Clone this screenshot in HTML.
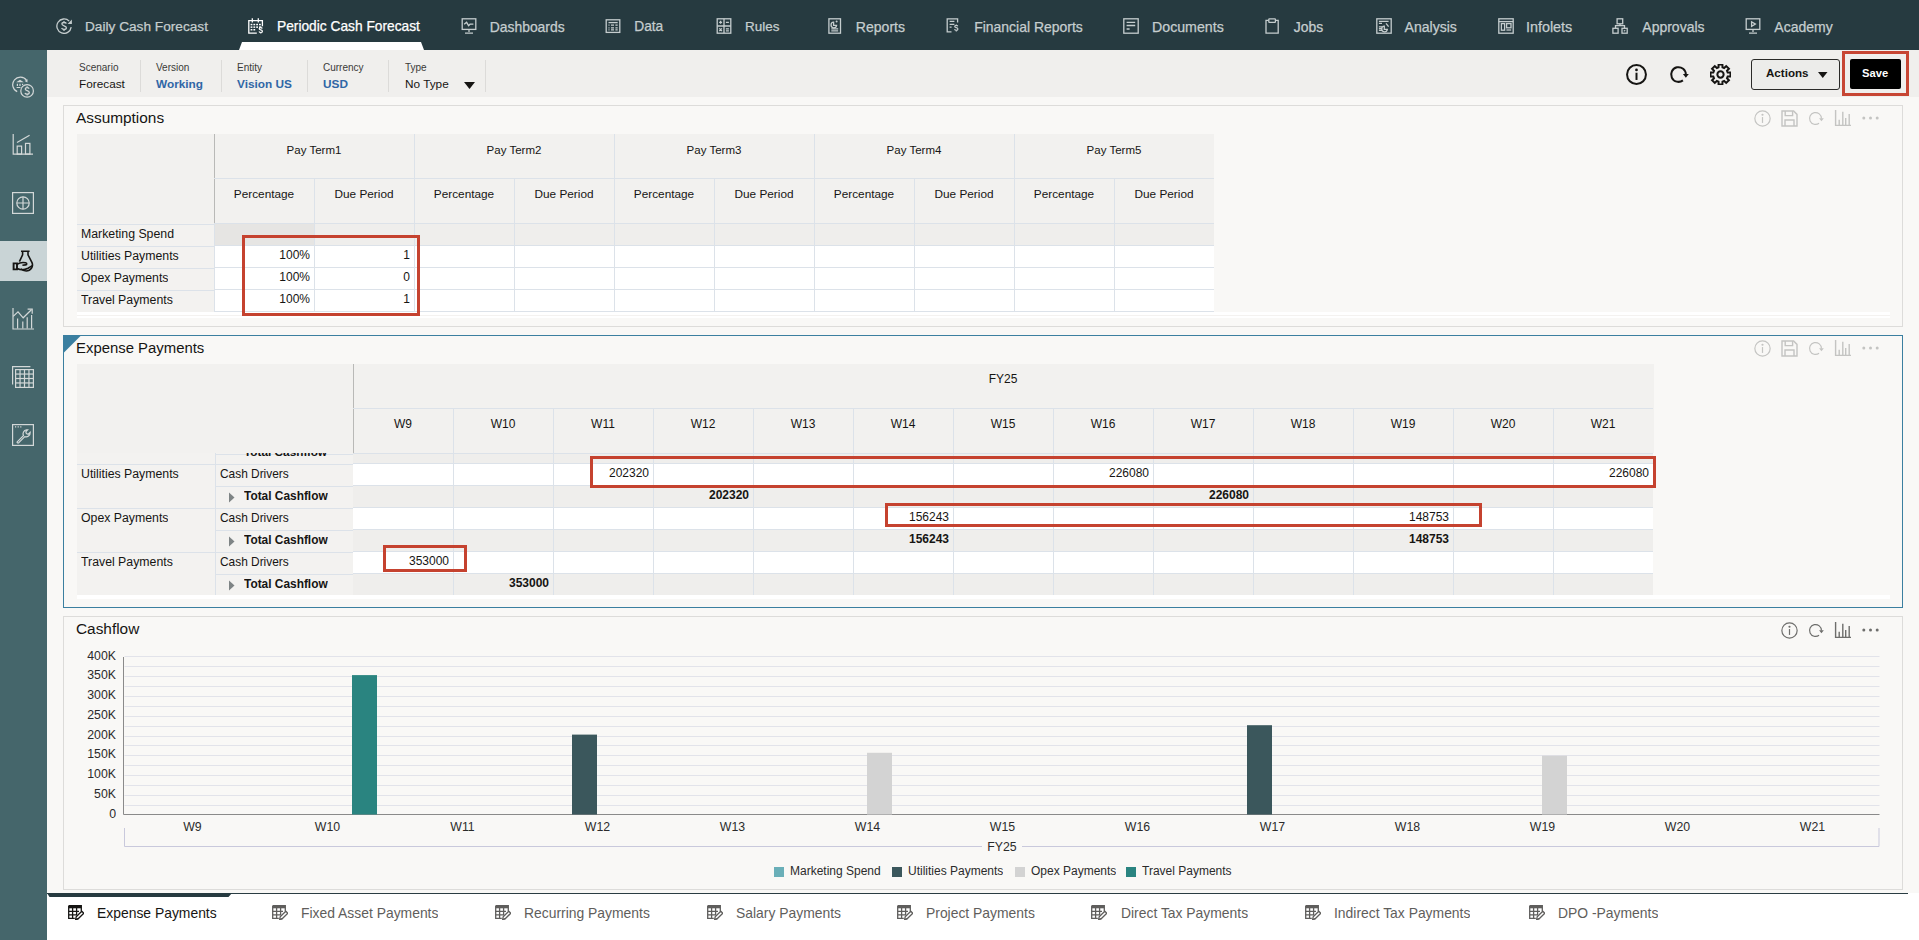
<!DOCTYPE html><html><head><meta charset="utf-8"><style>
*{margin:0;padding:0;box-sizing:border-box}
html,body{width:1919px;height:940px;overflow:hidden;background:#f9f8f6;font-family:"Liberation Sans",sans-serif;color:#161513}
.a{position:absolute}
.nav{left:0;top:0;width:1919px;height:50px;background:#263a40}
.ni{position:absolute;top:18px;font-size:13.8px;color:#c5cdce;white-space:nowrap;line-height:18px;-webkit-text-stroke:0.25px currentColor}
.side{left:0;top:50px;width:47px;height:890px;background:#45666b}
.pov{left:47px;top:50px;width:1872px;height:47px;background:#f0efed}
.lbl{position:absolute;font-size:10px;color:#3a3a38;white-space:nowrap}
.val{position:absolute;font-size:11.8px;white-space:nowrap}
.blue{color:#2f66a6;font-weight:bold}
.sep{position:absolute;top:60px;width:1px;height:32px;background:#dcdbd9}
.panel{position:absolute;border:1px solid #dddcda;background:#f9f8f6}
.ptitle{position:absolute;font-size:15.4px;white-space:nowrap;color:#161513}
.c{position:absolute;font-size:12px;white-space:nowrap;overflow:hidden}
</style></head><body>
<div class="a nav"></div>
<div class="ni" style="left:85px;color:#c5cdce;font-size:13.66px">Daily Cash Forecast</div>
<svg class="a" style="left:56px;top:18px" width="16" height="16" viewBox="0 0 16 16"><path d="M15.2 9.2A7.2 7.2 0 1 1 13.2 3.1" fill="none" stroke="#c5cdce" stroke-width="1.3"/><path d="M11.6 5.9H15.9V1.6Z" fill="#c5cdce"/><path d="M10.4 5.6C10 4.7 9.1 4.5 8 4.5C6.8 4.5 5.9 5.1 5.9 6.1C5.9 8.3 10.4 7.3 10.4 9.8C10.4 10.9 9.4 11.5 8.1 11.5C6.9 11.5 6 11.1 5.6 10.1M8 3V4.5M8 11.5V13" fill="none" stroke="#c5cdce" stroke-width="1.3"/></svg>
<div class="ni" style="left:277px;color:#ffffff;font-size:13.76px">Periodic Cash Forecast</div>
<svg class="a" style="left:248px;top:18px" width="16" height="16" viewBox="0 0 16 16"><path d="M8.8 15.2H0.8V2.6H14.4V8.2" fill="none" stroke="#ffffff" stroke-width="1.3"/><path d="M4.3 0.3V4.5M10.3 0.3V4.5" fill="none" stroke="#ffffff" stroke-width="1.3"/><rect x="2.6" y="5.8" width="1.8" height="1.5" fill="#ffffff"/><rect x="2.6" y="8.4" width="1.8" height="1.5" fill="#ffffff"/><rect x="5.4" y="5.8" width="1.8" height="1.5" fill="#ffffff"/><rect x="5.4" y="8.4" width="1.8" height="1.5" fill="#ffffff"/><rect x="8.2" y="5.8" width="1.8" height="1.5" fill="#ffffff"/><rect x="8.2" y="8.4" width="1.8" height="1.5" fill="#ffffff"/><rect x="11" y="5.8" width="1.8" height="1.5" fill="#ffffff"/><rect x="11" y="8.4" width="1.8" height="1.5" fill="#ffffff"/><rect x="2.6" y="11" width="1.8" height="1.5" fill="#ffffff"/><rect x="5.4" y="11" width="1.8" height="1.5" fill="#ffffff"/><path d="M14.3 10.4C14 9.8 13.4 9.6 12.7 9.6C11.9 9.6 11.2 10 11.2 10.7C11.2 12.2 14.4 11.5 14.4 13.2C14.4 14 13.7 14.5 12.8 14.5C12 14.5 11.3 14.2 11 13.5M12.8 8.6V9.6M12.8 14.5V15.6" fill="none" stroke="#ffffff" stroke-width="1.2"/></svg>
<div class="ni" style="left:489.7px;color:#c5cdce;font-size:13.91px">Dashboards</div>
<svg class="a" style="left:461px;top:18px" width="16" height="16" viewBox="0 0 16 16"><rect x="1.2" y="0.8" width="13.6" height="10.6" fill="none" stroke="#c5cdce" stroke-width="1.3"/><path d="M8 11.4V14M4 15.1H12" fill="none" stroke="#c5cdce" stroke-width="1.3" stroke-width="1.6"/><path d="M3.2 6.3L5.6 4.3L7.6 7.6L9 6.2H12.4" fill="none" stroke="#c5cdce" stroke-width="1.3"/></svg>
<div class="ni" style="left:634.2px;color:#c5cdce;font-size:13.77px">Data</div>
<svg class="a" style="left:605px;top:18px" width="16" height="16" viewBox="0 0 16 16"><rect x="1.2" y="1.8" width="13.6" height="12.6" fill="none" stroke="#c5cdce" stroke-width="1.3"/><path d="M3.5 4.6H12.7" fill="none" stroke="#c5cdce" stroke-width="1.3"/><path d="M3.5 7.2H4.5M6 7.2H9M10.4 7.2H12.7M3.5 9.8H4.5M6 9.8H9M10.4 9.8H12.7M3.5 11.8H4.5M6 11.8H9M10.4 11.8H12.7" fill="none" stroke="#c5cdce" stroke-width="1.3" stroke-width="1.1"/></svg>
<div class="ni" style="left:745px;color:#c5cdce;font-size:13.45px">Rules</div>
<svg class="a" style="left:716px;top:18px" width="16" height="16" viewBox="0 0 16 16"><rect x="1.2" y="0.8" width="13.6" height="14.4" fill="none" stroke="#c5cdce" stroke-width="1.3"/><path d="M8 0.8V15.2M1.2 8H14.8" fill="none" stroke="#c5cdce" stroke-width="1.3"/><path d="M4.6 2.8V5.8M3.1 4.3H6.1M9.9 4.3H12.9M3.3 10.4L5.9 13M5.9 10.4L3.3 13M9.9 10.8H12.9M9.9 12.8H12.9" fill="none" stroke="#c5cdce" stroke-width="1.3" stroke-width="1.2"/></svg>
<div class="ni" style="left:855.8px;color:#c5cdce;font-size:14.05px">Reports</div>
<svg class="a" style="left:828px;top:18px" width="16" height="16" viewBox="0 0 16 16"><rect x="0.9" y="0.8" width="11.6" height="14.4" fill="none" stroke="#c5cdce" stroke-width="1.3"/><path d="M5.6 4.2A2.8 2.8 0 1 0 8.6 7.4H5.6Z" fill="none" stroke="#c5cdce" stroke-width="1.3" stroke-width="1.1"/><circle cx="8.6" cy="3.4" r="1" fill="#c5cdce"/><path d="M3.3 10.8H10.2M3.3 12.8H10.2" fill="none" stroke="#c5cdce" stroke-width="1.3" stroke-width="1.1"/></svg>
<div class="ni" style="left:974.2px;color:#c5cdce;font-size:13.96px">Financial Reports</div>
<svg class="a" style="left:946px;top:18px" width="16" height="16" viewBox="0 0 16 16"><path d="M5.5 13.8H1.2V0.8H11.6V4.6" fill="none" stroke="#c5cdce" stroke-width="1.3"/><path d="M3.6 3.4H8.4M3.6 6.4H8.4M3.6 9.2H5.6" fill="none" stroke="#c5cdce" stroke-width="1.3" stroke-width="1.1"/><path d="M11.8 8.2C11.5 7.6 10.9 7.4 10.2 7.4C9.4 7.4 8.7 7.8 8.7 8.5C8.7 10 11.9 9.3 11.9 11C11.9 11.8 11.2 12.3 10.3 12.3C9.5 12.3 8.8 12 8.5 11.3M10.3 6.4V7.4M10.3 12.3V13.6" fill="none" stroke="#c5cdce" stroke-width="1.2"/></svg>
<div class="ni" style="left:1152px;color:#c5cdce;font-size:14.2px">Documents</div>
<svg class="a" style="left:1123px;top:18px" width="16" height="16" viewBox="0 0 16 16"><rect x="0.8" y="0.8" width="14.4" height="14.4" fill="none" stroke="#c5cdce" stroke-width="1.3"/><path d="M3.6 4.3H12.2M3.6 7.5H12.2M3.6 11H6.6" fill="none" stroke="#c5cdce" stroke-width="1.3" stroke-width="1.2"/></svg>
<div class="ni" style="left:1293.8px;color:#c5cdce;font-size:13.92px">Jobs</div>
<svg class="a" style="left:1265px;top:18px" width="16" height="16" viewBox="0 0 16 16"><path d="M3.5 2.4H1V15.2H13.2V2.4H10.6" fill="none" stroke="#c5cdce" stroke-width="1.3"/><rect x="3.8" y="0.8" width="6.6" height="3.6" rx="0.6" fill="none" stroke="#c5cdce" stroke-width="1.3"/></svg>
<div class="ni" style="left:1404.5px;color:#c5cdce;font-size:14.07px">Analysis</div>
<svg class="a" style="left:1376px;top:18px" width="16" height="16" viewBox="0 0 16 16"><rect x="0.8" y="0.8" width="14.4" height="14.4" fill="none" stroke="#c5cdce" stroke-width="1.3"/><path d="M2.9 3.4H12.6M2.9 5.4H6M2.9 8.8H6M2.9 10.6H6M2.9 12.4H6" fill="none" stroke="#c5cdce" stroke-width="1.3" stroke-width="1.1"/><path d="M8.3 8.2A2.8 2.8 0 1 0 11.3 11.4H8.3Z" fill="none" stroke="#c5cdce" stroke-width="1.3" stroke-width="1.1"/><path d="M10 5.4L12.6 8.6" fill="none" stroke="#c5cdce" stroke-width="1.3" stroke-width="1.4"/></svg>
<div class="ni" style="left:1525.9px;color:#c5cdce;font-size:14.4px">Infolets</div>
<svg class="a" style="left:1498px;top:18px" width="16" height="16" viewBox="0 0 16 16"><rect x="0.8" y="0.8" width="14.4" height="14.4" fill="none" stroke="#c5cdce" stroke-width="1.3"/><path d="M0.8 3.6H15.2" fill="none" stroke="#c5cdce" stroke-width="1.3"/><rect x="3.4" y="5.6" width="3.2" height="6.6" fill="none" stroke="#c5cdce" stroke-width="1.3" stroke-width="1.1"/><rect x="8.6" y="5.6" width="4.4" height="4.2" fill="none" stroke="#c5cdce" stroke-width="1.3" stroke-width="1.1"/><path d="M8.4 12H13.2" fill="none" stroke="#c5cdce" stroke-width="1.3" stroke-width="1.1"/></svg>
<div class="ni" style="left:1642.3px;color:#c5cdce;font-size:14.01px">Approvals</div>
<svg class="a" style="left:1612px;top:18px" width="16" height="16" viewBox="0 0 16 16"><rect x="5.1" y="0.8" width="5.6" height="5" fill="none" stroke="#c5cdce" stroke-width="1.3"/><path d="M8 5.8V7.4M3.5 10.2V7.6H12.5V10.2" fill="none" stroke="#c5cdce" stroke-width="1.3"/><rect x="0.9" y="10.3" width="5.2" height="4.9" fill="none" stroke="#c5cdce" stroke-width="1.3"/><rect x="10" y="10.3" width="5.2" height="4.9" fill="none" stroke="#c5cdce" stroke-width="1.3"/><path d="M11.8 11.8L13.8 12.8L11.8 13.8Z" fill="#c5cdce"/></svg>
<div class="ni" style="left:1774.3px;color:#c5cdce;font-size:14.01px">Academy</div>
<svg class="a" style="left:1745px;top:18px" width="16" height="16" viewBox="0 0 16 16"><rect x="1.2" y="0.8" width="13.6" height="10.6" fill="none" stroke="#c5cdce" stroke-width="1.3"/><path d="M8 11.4V14M4 15.1H12" fill="none" stroke="#c5cdce" stroke-width="1.3" stroke-width="1.6"/><path d="M6.6 3.8V8.4L10.4 6.1Z" fill="none" stroke="#c5cdce" stroke-width="1.3" stroke-width="1.2"/></svg>
<svg class="a" style="left:239px;top:42px" width="186" height="8"><path d="M3 0H182L185 8H0Z" fill="#fff"/></svg>
<div class="a side"></div>
<div class="a" style="left:0;top:241px;width:47px;height:40px;background:#c9d4d6"></div>
<svg class="a" style="left:12px;top:76px" width="22" height="22" viewBox="0 0 22 22"><path d="M5.2 15.6A7.6 7.6 0 1 1 14.6 4.4" fill="none" stroke="#d3d8d8" stroke-width="1.2"/><path d="M12.6 4.9L15.6 3.2L15.4 6.6Z" fill="#d3d8d8"/><circle cx="15.1" cy="14.9" r="6.3" fill="none" stroke="#d3d8d8" stroke-width="1.2"/><path d="M17.2 12.6C16.8 11.9 16.1 11.6 15.2 11.6C14.1 11.6 13.2 12.2 13.2 13.1C13.2 15.1 17.3 14.2 17.3 16.5C17.3 17.6 16.3 18.2 15.1 18.2C14.1 18.2 13.2 17.8 12.9 17M15.1 10.3V11.6M15.1 18.2V19.6" fill="none" stroke="#d3d8d8" stroke-width="1.2"/><path d="M4.2 6.3L8 3.7L11.8 6.3Z" fill="#d3d8d8"/><path d="M5.4 7.8V10M8 7.8V10M10.6 7.8V9M4.6 11.5H8.4" fill="none" stroke="#d3d8d8" stroke-width="1.2" stroke-width="1.5"/></svg>
<svg class="a" style="left:12px;top:134px" width="22" height="22" viewBox="0 0 22 22"><path d="M1.2 0V20.2H21" fill="none" stroke="#d3d8d8" stroke-width="1.2"/><rect x="5.2" y="12.1" width="4.4" height="8" fill="none" stroke="#d3d8d8" stroke-width="1.2"/><rect x="13.5" y="9.4" width="4.4" height="10.7" fill="none" stroke="#d3d8d8" stroke-width="1.2"/><path d="M5 8.4L17.6 1.2" fill="none" stroke="#d3d8d8" stroke-width="1.2"/></svg>
<svg class="a" style="left:12px;top:192px" width="22" height="22" viewBox="0 0 22 22"><rect x="0.6" y="0.6" width="20.8" height="20.8" fill="none" stroke="#d3d8d8" stroke-width="1.2"/><circle cx="11" cy="11" r="6.2" fill="none" stroke="#d3d8d8" stroke-width="1.2"/><path d="M11 4.8V17.2M4.8 11H17.2" fill="none" stroke="#d3d8d8" stroke-width="1.2"/></svg>
<svg class="a" style="left:12px;top:250px" width="22" height="22" viewBox="0 0 22 22"><path d="M9 1.2H17.6M10.6 1.2V4.8L7.4 11.6M16 1.2V4.8L20 12.6C21.6 16.6 18.8 21 14.2 21C12 21 10.2 20.2 9 18.8" fill="none" stroke="#161513" stroke-width="1.6"/><path d="M1.6 13.4H5V19.4H1.6Z" fill="none" stroke="#161513" stroke-width="1.9"/><path d="M5 14.4C7.6 12.6 10.6 12.2 13.6 12.8C15.2 13.2 15.1 14.7 13.5 14.9L10.4 15.3M5 18.6C8.2 20 12.4 20.1 16 18.2L20.8 15.4" fill="none" stroke="#161513" stroke-width="1.6"/></svg>
<svg class="a" style="left:12px;top:308px" width="22" height="22" viewBox="0 0 22 22"><path d="M1 0V21H22" fill="none" stroke="#d3d8d8" stroke-width="1.2"/><path d="M1.2 8.4L6 3.8L11.2 9.8L19.4 1.8" fill="none" stroke="#d3d8d8" stroke-width="1.2"/><path d="M15.6 1.2H20.2V5.8" fill="none" stroke="#d3d8d8" stroke-width="1.2"/><path d="M5.6 20.6V10.4M10.8 20.6V13.6M15.2 20.6V9.2M19.6 20.6V7" fill="none" stroke="#d3d8d8" stroke-width="1.2"/></svg>
<svg class="a" style="left:12px;top:366px" width="22" height="22" viewBox="0 0 22 22"><path d="M0.6 18.6V0.6H18.4" fill="none" stroke="#d3d8d8" stroke-width="1.2"/><rect x="3.6" y="3.6" width="17.8" height="17.8" fill="none" stroke="#d3d8d8" stroke-width="1.2"/><path d="M8.05 3.6V21.4" fill="none" stroke="#d3d8d8" stroke-width="1.2"/><path d="M12.5 3.6V21.4" fill="none" stroke="#d3d8d8" stroke-width="1.2"/><path d="M16.950000000000003 3.6V21.4" fill="none" stroke="#d3d8d8" stroke-width="1.2"/><path d="M3.6 8.05H21.4" fill="none" stroke="#d3d8d8" stroke-width="1.2"/><path d="M3.6 12.5H21.4" fill="none" stroke="#d3d8d8" stroke-width="1.2"/><path d="M3.6 16.950000000000003H21.4" fill="none" stroke="#d3d8d8" stroke-width="1.2"/></svg>
<svg class="a" style="left:12px;top:424px" width="22" height="22" viewBox="0 0 22 22"><rect x="0.6" y="0.6" width="20.8" height="20.8" fill="none" stroke="#d3d8d8" stroke-width="1.2"/><path d="M3 2.8H4.2M5.6 2.8H6.8M8.2 2.8H9.4" fill="none" stroke="#d3d8d8" stroke-width="1.2" stroke-width="1"/><path d="M5.2 17.8L11.4 11.6C10.4 9.2 11.6 6.2 14.6 5.8L15.6 5.8L13.8 7.8L14.4 9.6L16.2 10.2L18.2 8.4C18.4 11.6 15.4 13.4 12.8 12.6L6.6 18.8C6 19.4 4.6 18.6 5.2 17.8Z" fill="none" stroke="#d3d8d8" stroke-width="1.2"/></svg>
<div class="a pov"></div>
<div class="lbl" style="left:79px;top:61.5px">Scenario</div>
<div class="val" style="left:79px;top:77px">Forecast</div>
<div class="lbl" style="left:156px;top:61.5px">Version</div>
<div class="val blue" style="left:156px;top:77px">Working</div>
<div class="lbl" style="left:237px;top:61.5px">Entity</div>
<div class="val blue" style="left:237px;top:77px">Vision US</div>
<div class="lbl" style="left:323px;top:61.5px">Currency</div>
<div class="val blue" style="left:323px;top:77px">USD</div>
<div class="lbl" style="left:405px;top:61.5px">Type</div>
<div class="val" style="left:405px;top:77px">No Type</div>
<div class="sep" style="left:140px"></div>
<div class="sep" style="left:221px"></div>
<div class="sep" style="left:307px"></div>
<div class="sep" style="left:388px"></div>
<div class="sep" style="left:485px"></div>
<svg class="a" style="left:464px;top:82px" width="11" height="8"><path d="M0 0H11L5.5 7Z" fill="#161513"/></svg>
<div class="a" style="left:1751px;top:59px;width:89px;height:31px;border:1.5px solid #2a2a28;border-radius:3px;background:#ececea"></div>
<div class="a" style="left:1766px;top:66px;font-size:11.6px;font-weight:bold;white-space:nowrap">Actions</div>
<svg class="a" style="left:1818px;top:72px" width="10" height="6"><path d="M0 0H9.5L4.75 6Z" fill="#161513"/></svg>
<div class="a" style="left:1842px;top:51px;width:67px;height:45px;border:3px solid #c74634"></div>
<div class="a" style="left:1850px;top:59px;width:51px;height:30px;background:#000;border-radius:2px"></div>
<div class="a" style="left:1862px;top:67px;font-size:11.2px;font-weight:bold;color:#fff;white-space:nowrap">Save</div>
<div class="panel" style="left:63px;top:105px;width:1840px;height:222px"></div>
<div class="ptitle" style="left:76px;top:109px">Assumptions</div>
<div class="panel" style="left:63px;top:335px;width:1840px;height:273px;border-color:#3b7fa0"></div>
<svg class="a" style="left:63px;top:335px" width="19" height="19"><path d="M0 0H18.5L0 18.5Z" fill="#3b7fa0"/></svg>
<div class="ptitle" style="left:76px;top:340px;font-size:14.9px">Expense Payments</div>
<div class="panel" style="left:63px;top:616px;width:1840px;height:274px"></div>
<div class="ptitle" style="left:76px;top:620px">Cashflow</div>
<div class="a" style="left:77px;top:134px;width:1137px;height:89px;background:#f2f1ef;"></div>
<div class="a" style="left:77px;top:223px;width:137px;height:89px;background:#f3f2f0;"></div>
<div class="a" style="left:214px;top:223px;width:1000px;height:22px;background:#efeeec;"></div>
<div class="a" style="left:214px;top:245px;width:1000px;height:67px;background:#ffffff;"></div>
<div class="a" style="left:214px;top:134px;width:1px;height:89px;background:#b9b9b7;"></div>
<div class="a" style="left:214px;top:223px;width:1px;height:89px;background:#dce2e9;"></div>
<div class="a" style="left:215px;top:224px;width:99px;height:21px;background:#e6e5e3;"></div>
<div class="a" style="left:214px;top:178px;width:1000px;height:1px;background:#dce2e9;"></div>
<div class="a" style="left:314px;top:178px;width:1px;height:134px;background:#dce2e9;"></div>
<div class="c" style="left:214px;top:144px;width:200px;text-align:center;font-size:11.5px">Pay Term1</div>
<div class="c" style="left:214px;top:187px;width:100px;text-align:center;font-size:11.8px">Percentage</div>
<div class="c" style="left:314px;top:187px;width:100px;text-align:center;font-size:11.8px">Due Period</div>
<div class="a" style="left:414px;top:134px;width:1px;height:178px;background:#dce2e9;"></div>
<div class="a" style="left:514px;top:178px;width:1px;height:134px;background:#dce2e9;"></div>
<div class="c" style="left:414px;top:144px;width:200px;text-align:center;font-size:11.5px">Pay Term2</div>
<div class="c" style="left:414px;top:187px;width:100px;text-align:center;font-size:11.8px">Percentage</div>
<div class="c" style="left:514px;top:187px;width:100px;text-align:center;font-size:11.8px">Due Period</div>
<div class="a" style="left:614px;top:134px;width:1px;height:178px;background:#dce2e9;"></div>
<div class="a" style="left:714px;top:178px;width:1px;height:134px;background:#dce2e9;"></div>
<div class="c" style="left:614px;top:144px;width:200px;text-align:center;font-size:11.5px">Pay Term3</div>
<div class="c" style="left:614px;top:187px;width:100px;text-align:center;font-size:11.8px">Percentage</div>
<div class="c" style="left:714px;top:187px;width:100px;text-align:center;font-size:11.8px">Due Period</div>
<div class="a" style="left:814px;top:134px;width:1px;height:178px;background:#dce2e9;"></div>
<div class="a" style="left:914px;top:178px;width:1px;height:134px;background:#dce2e9;"></div>
<div class="c" style="left:814px;top:144px;width:200px;text-align:center;font-size:11.5px">Pay Term4</div>
<div class="c" style="left:814px;top:187px;width:100px;text-align:center;font-size:11.8px">Percentage</div>
<div class="c" style="left:914px;top:187px;width:100px;text-align:center;font-size:11.8px">Due Period</div>
<div class="a" style="left:1014px;top:134px;width:1px;height:178px;background:#dce2e9;"></div>
<div class="a" style="left:1114px;top:178px;width:1px;height:134px;background:#dce2e9;"></div>
<div class="c" style="left:1014px;top:144px;width:200px;text-align:center;font-size:11.5px">Pay Term5</div>
<div class="c" style="left:1014px;top:187px;width:100px;text-align:center;font-size:11.8px">Percentage</div>
<div class="c" style="left:1114px;top:187px;width:100px;text-align:center;font-size:11.8px">Due Period</div>
<div class="a" style="left:214px;top:223px;width:1000px;height:1px;background:#dce2e9;"></div>
<div class="a" style="left:77px;top:224px;width:137px;height:1px;background:#dce2e9;"></div>
<div class="a" style="left:214px;top:245px;width:1000px;height:1px;background:#dce2e9;"></div>
<div class="a" style="left:77px;top:246px;width:137px;height:1px;background:#dce2e9;"></div>
<div class="a" style="left:214px;top:267px;width:1000px;height:1px;background:#dce2e9;"></div>
<div class="a" style="left:77px;top:268px;width:137px;height:1px;background:#dce2e9;"></div>
<div class="a" style="left:214px;top:289px;width:1000px;height:1px;background:#dce2e9;"></div>
<div class="a" style="left:77px;top:290px;width:137px;height:1px;background:#dce2e9;"></div>
<div class="a" style="left:214px;top:311px;width:1000px;height:1px;background:#dce2e9;"></div>
<div class="a" style="left:77px;top:312px;width:137px;height:1px;background:#dce2e9;"></div>
<div class="c" style="left:81px;top:227px;font-size:12.3px">Marketing Spend</div>
<div class="c" style="left:81px;top:249px;font-size:12.3px">Utilities Payments</div>
<div class="c" style="left:81px;top:271px;font-size:12.3px">Opex Payments</div>
<div class="c" style="left:81px;top:293px;font-size:12.3px">Travel Payments</div>
<div class="c" style="left:214px;top:248px;width:96px;text-align:right;font-size:12px">100%</div>
<div class="c" style="left:314px;top:248px;width:96px;text-align:right;font-size:12px">1</div>
<div class="c" style="left:214px;top:270px;width:96px;text-align:right;font-size:12px">100%</div>
<div class="c" style="left:314px;top:270px;width:96px;text-align:right;font-size:12px">0</div>
<div class="c" style="left:214px;top:292px;width:96px;text-align:right;font-size:12px">100%</div>
<div class="c" style="left:314px;top:292px;width:96px;text-align:right;font-size:12px">1</div>
<div class="a" style="left:77px;top:312px;width:1813px;height:6px;background:#ffffff;"></div>
<div class="a" style="left:77px;top:315px;width:1813px;height:1px;background:#f4f2f0;"></div>
<div class="a" style="left:242px;top:235px;width:178px;height:81px;border:3px solid #c5422f"></div>
<div class="a" style="left:77px;top:364px;width:1577px;height:89px;background:#f2f1ef;"></div>
<div class="a" style="left:77px;top:453px;width:276px;height:143px;background:#f3f2f0;"></div>
<div class="a" style="left:353px;top:364px;width:1px;height:89px;background:#b9b9b7;"></div>
<div class="a" style="left:353px;top:408px;width:1300px;height:1px;background:#dce2e9;"></div>
<div class="c" style="left:353px;top:372px;width:1300px;text-align:center;font-size:12px">FY25</div>
<div class="c" style="left:353px;top:417px;width:100px;text-align:center;font-size:12px">W9</div>
<div class="a" style="left:453px;top:408px;width:1px;height:188px;background:#dce2e9;"></div>
<div class="c" style="left:453px;top:417px;width:100px;text-align:center;font-size:12px">W10</div>
<div class="a" style="left:553px;top:408px;width:1px;height:188px;background:#dce2e9;"></div>
<div class="c" style="left:553px;top:417px;width:100px;text-align:center;font-size:12px">W11</div>
<div class="a" style="left:653px;top:408px;width:1px;height:188px;background:#dce2e9;"></div>
<div class="c" style="left:653px;top:417px;width:100px;text-align:center;font-size:12px">W12</div>
<div class="a" style="left:753px;top:408px;width:1px;height:188px;background:#dce2e9;"></div>
<div class="c" style="left:753px;top:417px;width:100px;text-align:center;font-size:12px">W13</div>
<div class="a" style="left:853px;top:408px;width:1px;height:188px;background:#dce2e9;"></div>
<div class="c" style="left:853px;top:417px;width:100px;text-align:center;font-size:12px">W14</div>
<div class="a" style="left:953px;top:408px;width:1px;height:188px;background:#dce2e9;"></div>
<div class="c" style="left:953px;top:417px;width:100px;text-align:center;font-size:12px">W15</div>
<div class="a" style="left:1053px;top:408px;width:1px;height:188px;background:#dce2e9;"></div>
<div class="c" style="left:1053px;top:417px;width:100px;text-align:center;font-size:12px">W16</div>
<div class="a" style="left:1153px;top:408px;width:1px;height:188px;background:#dce2e9;"></div>
<div class="c" style="left:1153px;top:417px;width:100px;text-align:center;font-size:12px">W17</div>
<div class="a" style="left:1253px;top:408px;width:1px;height:188px;background:#dce2e9;"></div>
<div class="c" style="left:1253px;top:417px;width:100px;text-align:center;font-size:12px">W18</div>
<div class="a" style="left:1353px;top:408px;width:1px;height:188px;background:#dce2e9;"></div>
<div class="c" style="left:1353px;top:417px;width:100px;text-align:center;font-size:12px">W19</div>
<div class="a" style="left:1453px;top:408px;width:1px;height:188px;background:#dce2e9;"></div>
<div class="c" style="left:1453px;top:417px;width:100px;text-align:center;font-size:12px">W20</div>
<div class="a" style="left:1553px;top:408px;width:1px;height:188px;background:#dce2e9;"></div>
<div class="c" style="left:1553px;top:417px;width:100px;text-align:center;font-size:12px">W21</div>
<div class="a" style="left:353px;top:453px;width:1300px;height:10px;background:#efeeec;"></div>
<div class="a" style="left:353px;top:463px;width:1300px;height:22px;background:#ffffff;"></div>
<div class="a" style="left:353px;top:485px;width:1300px;height:22px;background:#efeeec;"></div>
<div class="a" style="left:353px;top:507px;width:1300px;height:22px;background:#ffffff;"></div>
<div class="a" style="left:353px;top:529px;width:1300px;height:22px;background:#efeeec;"></div>
<div class="a" style="left:353px;top:551px;width:1300px;height:22px;background:#ffffff;"></div>
<div class="a" style="left:353px;top:573px;width:1300px;height:22px;background:#efeeec;"></div>
<div class="a" style="left:453px;top:453px;width:1px;height:143px;background:#dce2e9;"></div>
<div class="a" style="left:553px;top:453px;width:1px;height:143px;background:#dce2e9;"></div>
<div class="a" style="left:653px;top:453px;width:1px;height:143px;background:#dce2e9;"></div>
<div class="a" style="left:753px;top:453px;width:1px;height:143px;background:#dce2e9;"></div>
<div class="a" style="left:853px;top:453px;width:1px;height:143px;background:#dce2e9;"></div>
<div class="a" style="left:953px;top:453px;width:1px;height:143px;background:#dce2e9;"></div>
<div class="a" style="left:1053px;top:453px;width:1px;height:143px;background:#dce2e9;"></div>
<div class="a" style="left:1153px;top:453px;width:1px;height:143px;background:#dce2e9;"></div>
<div class="a" style="left:1253px;top:453px;width:1px;height:143px;background:#dce2e9;"></div>
<div class="a" style="left:1353px;top:453px;width:1px;height:143px;background:#dce2e9;"></div>
<div class="a" style="left:1453px;top:453px;width:1px;height:143px;background:#dce2e9;"></div>
<div class="a" style="left:1553px;top:453px;width:1px;height:143px;background:#dce2e9;"></div>
<div class="a" style="left:215px;top:453px;width:1px;height:143px;background:#dce2e9;"></div>
<div class="a" style="left:353px;top:453px;width:1300px;height:1px;background:#dce2e9;"></div>
<div class="a" style="left:215px;top:454px;width:138px;height:1px;background:#dce2e9;"></div>
<div class="a" style="left:353px;top:463px;width:1300px;height:1px;background:#dce2e9;"></div>
<div class="a" style="left:215px;top:464px;width:138px;height:1px;background:#dce2e9;"></div>
<div class="a" style="left:353px;top:485px;width:1300px;height:1px;background:#dce2e9;"></div>
<div class="a" style="left:215px;top:486px;width:138px;height:1px;background:#dce2e9;"></div>
<div class="a" style="left:353px;top:507px;width:1300px;height:1px;background:#dce2e9;"></div>
<div class="a" style="left:215px;top:508px;width:138px;height:1px;background:#dce2e9;"></div>
<div class="a" style="left:353px;top:529px;width:1300px;height:1px;background:#dce2e9;"></div>
<div class="a" style="left:215px;top:530px;width:138px;height:1px;background:#dce2e9;"></div>
<div class="a" style="left:353px;top:551px;width:1300px;height:1px;background:#dce2e9;"></div>
<div class="a" style="left:215px;top:552px;width:138px;height:1px;background:#dce2e9;"></div>
<div class="a" style="left:353px;top:573px;width:1300px;height:1px;background:#dce2e9;"></div>
<div class="a" style="left:215px;top:574px;width:138px;height:1px;background:#dce2e9;"></div>
<div class="a" style="left:353px;top:595px;width:1300px;height:1px;background:#dce2e9;"></div>
<div class="a" style="left:215px;top:596px;width:138px;height:1px;background:#dce2e9;"></div>
<div class="a" style="left:77px;top:464px;width:138px;height:1px;background:#dce2e9;"></div>
<div class="a" style="left:77px;top:508px;width:138px;height:1px;background:#dce2e9;"></div>
<div class="a" style="left:77px;top:552px;width:138px;height:1px;background:#dce2e9;"></div>
<div class="a" style="left:77px;top:596px;width:138px;height:1px;background:#dce2e9;"></div>
<div class="c" style="left:81px;top:467px;font-size:12.3px">Utilities Payments</div>
<div class="c" style="left:220px;top:467px;font-size:11.9px">Cash Drivers</div>
<div class="c" style="left:244px;top:489px;font-size:11.9px;font-weight:bold">Total Cashflow</div>
<svg class="a" style="left:228px;top:491.5px" width="7" height="11"><path d="M1 0.5L6.5 5.5L1 10.5Z" fill="#7e8485"/></svg>
<div class="c" style="left:81px;top:511px;font-size:12.3px">Opex Payments</div>
<div class="c" style="left:220px;top:511px;font-size:11.9px">Cash Drivers</div>
<div class="c" style="left:244px;top:533px;font-size:11.9px;font-weight:bold">Total Cashflow</div>
<svg class="a" style="left:228px;top:535.5px" width="7" height="11"><path d="M1 0.5L6.5 5.5L1 10.5Z" fill="#7e8485"/></svg>
<div class="c" style="left:81px;top:555px;font-size:12.3px">Travel Payments</div>
<div class="c" style="left:220px;top:555px;font-size:11.9px">Cash Drivers</div>
<div class="c" style="left:244px;top:577px;font-size:11.9px;font-weight:bold">Total Cashflow</div>
<svg class="a" style="left:228px;top:579.5px" width="7" height="11"><path d="M1 0.5L6.5 5.5L1 10.5Z" fill="#7e8485"/></svg>
<div class="c" style="left:244px;top:445px;font-size:11.8px;font-weight:bold;height:18px;clip-path:inset(8px 0 0 0)">Total Cashflow</div>
<div class="c" style="left:553px;top:466px;width:96px;text-align:right;font-size:12px">202320</div>
<div class="c" style="left:1053px;top:466px;width:96px;text-align:right;font-size:12px">226080</div>
<div class="c" style="left:1553px;top:466px;width:96px;text-align:right;font-size:12px">226080</div>
<div class="c" style="left:653px;top:488px;width:96px;text-align:right;font-size:12px;font-weight:bold">202320</div>
<div class="c" style="left:1153px;top:488px;width:96px;text-align:right;font-size:12px;font-weight:bold">226080</div>
<div class="c" style="left:853px;top:510px;width:96px;text-align:right;font-size:12px">156243</div>
<div class="c" style="left:1353px;top:510px;width:96px;text-align:right;font-size:12px">148753</div>
<div class="c" style="left:853px;top:532px;width:96px;text-align:right;font-size:12px;font-weight:bold">156243</div>
<div class="c" style="left:1353px;top:532px;width:96px;text-align:right;font-size:12px;font-weight:bold">148753</div>
<div class="c" style="left:353px;top:554px;width:96px;text-align:right;font-size:12px">353000</div>
<div class="c" style="left:453px;top:576px;width:96px;text-align:right;font-size:12px;font-weight:bold">353000</div>
<div class="a" style="left:77px;top:595px;width:1813px;height:4px;background:#ffffff;"></div>
<div class="a" style="left:590px;top:456px;width:1066px;height:32px;border:3px solid #c5422f"></div>
<div class="a" style="left:885px;top:503px;width:597px;height:24px;border:3px solid #c5422f"></div>
<div class="a" style="left:383px;top:545px;width:84px;height:27px;border:3px solid #c5422f"></div>
<svg class="a" style="left:0;top:0" width="1919" height="940"><line x1="124.5" y1="805.5" x2="1879.5" y2="805.5" stroke="#e2e3ea" stroke-width="1"/><line x1="124.5" y1="795.5" x2="1879.5" y2="795.5" stroke="#e2e3ea" stroke-width="1"/><line x1="124.5" y1="785.5" x2="1879.5" y2="785.5" stroke="#e2e3ea" stroke-width="1"/><line x1="124.5" y1="775.5" x2="1879.5" y2="775.5" stroke="#e2e3ea" stroke-width="1"/><line x1="124.5" y1="765.5" x2="1879.5" y2="765.5" stroke="#e2e3ea" stroke-width="1"/><line x1="124.5" y1="755.5" x2="1879.5" y2="755.5" stroke="#e2e3ea" stroke-width="1"/><line x1="124.5" y1="745.5" x2="1879.5" y2="745.5" stroke="#e2e3ea" stroke-width="1"/><line x1="124.5" y1="736.5" x2="1879.5" y2="736.5" stroke="#e2e3ea" stroke-width="1"/><line x1="124.5" y1="726.5" x2="1879.5" y2="726.5" stroke="#e2e3ea" stroke-width="1"/><line x1="124.5" y1="716.5" x2="1879.5" y2="716.5" stroke="#e2e3ea" stroke-width="1"/><line x1="124.5" y1="706.5" x2="1879.5" y2="706.5" stroke="#e2e3ea" stroke-width="1"/><line x1="124.5" y1="696.5" x2="1879.5" y2="696.5" stroke="#e2e3ea" stroke-width="1"/><line x1="124.5" y1="686.5" x2="1879.5" y2="686.5" stroke="#e2e3ea" stroke-width="1"/><line x1="124.5" y1="676.5" x2="1879.5" y2="676.5" stroke="#e2e3ea" stroke-width="1"/><line x1="124.5" y1="666.5" x2="1879.5" y2="666.5" stroke="#e2e3ea" stroke-width="1"/><line x1="124.5" y1="656.5" x2="1879.5" y2="656.5" stroke="#e2e3ea" stroke-width="1"/><line x1="123.5" y1="657" x2="123.5" y2="814.5" stroke="#8a8a8a" stroke-width="1"/><line x1="123.5" y1="814.5" x2="1879.5" y2="814.5" stroke="#8a8a8a" stroke-width="1.2"/><rect x="352.0" y="675.1" width="25" height="139.4" fill="#2a8480"/><rect x="572.0" y="734.6" width="25" height="79.9" fill="#3b575c"/><rect x="867.0" y="752.8" width="25" height="61.7" fill="#d3d3d3"/><rect x="1247.0" y="725.2" width="25" height="89.3" fill="#3b575c"/><rect x="1542.0" y="755.7" width="25" height="58.8" fill="#d3d3d3"/><path d="M124.5 828V846.5H982M1022 846.5H1879.0V828" fill="none" stroke="#c9c9dc" stroke-width="1"/></svg>
<div class="c" style="left:60px;top:806.5px;width:56px;text-align:right;font-size:12.3px;color:#2b2b2b">0</div>
<div class="c" style="left:60px;top:786.75px;width:56px;text-align:right;font-size:12.3px;color:#2b2b2b">50K</div>
<div class="c" style="left:60px;top:767.0px;width:56px;text-align:right;font-size:12.3px;color:#2b2b2b">100K</div>
<div class="c" style="left:60px;top:747.25px;width:56px;text-align:right;font-size:12.3px;color:#2b2b2b">150K</div>
<div class="c" style="left:60px;top:727.5px;width:56px;text-align:right;font-size:12.3px;color:#2b2b2b">200K</div>
<div class="c" style="left:60px;top:707.75px;width:56px;text-align:right;font-size:12.3px;color:#2b2b2b">250K</div>
<div class="c" style="left:60px;top:688.0px;width:56px;text-align:right;font-size:12.3px;color:#2b2b2b">300K</div>
<div class="c" style="left:60px;top:668.25px;width:56px;text-align:right;font-size:12.3px;color:#2b2b2b">350K</div>
<div class="c" style="left:60px;top:648.5px;width:56px;text-align:right;font-size:12.3px;color:#2b2b2b">400K</div>
<div class="c" style="left:162.5px;top:820px;width:60px;text-align:center;font-size:12.3px;color:#2b2b2b">W9</div>
<div class="c" style="left:297.5px;top:820px;width:60px;text-align:center;font-size:12.3px;color:#2b2b2b">W10</div>
<div class="c" style="left:432.5px;top:820px;width:60px;text-align:center;font-size:12.3px;color:#2b2b2b">W11</div>
<div class="c" style="left:567.5px;top:820px;width:60px;text-align:center;font-size:12.3px;color:#2b2b2b">W12</div>
<div class="c" style="left:702.5px;top:820px;width:60px;text-align:center;font-size:12.3px;color:#2b2b2b">W13</div>
<div class="c" style="left:837.5px;top:820px;width:60px;text-align:center;font-size:12.3px;color:#2b2b2b">W14</div>
<div class="c" style="left:972.5px;top:820px;width:60px;text-align:center;font-size:12.3px;color:#2b2b2b">W15</div>
<div class="c" style="left:1107.5px;top:820px;width:60px;text-align:center;font-size:12.3px;color:#2b2b2b">W16</div>
<div class="c" style="left:1242.5px;top:820px;width:60px;text-align:center;font-size:12.3px;color:#2b2b2b">W17</div>
<div class="c" style="left:1377.5px;top:820px;width:60px;text-align:center;font-size:12.3px;color:#2b2b2b">W18</div>
<div class="c" style="left:1512.5px;top:820px;width:60px;text-align:center;font-size:12.3px;color:#2b2b2b">W19</div>
<div class="c" style="left:1647.5px;top:820px;width:60px;text-align:center;font-size:12.3px;color:#2b2b2b">W20</div>
<div class="c" style="left:1782.5px;top:820px;width:60px;text-align:center;font-size:12.3px;color:#2b2b2b">W21</div>
<div class="c" style="left:972px;top:839.5px;width:60px;text-align:center;font-size:12.3px;color:#2b2b2b">FY25</div>
<div class="a" style="left:774px;top:867px;width:10px;height:10px;background:#6aafb8;"></div>
<div class="c" style="left:790px;top:864px;font-size:12px;color:#2b2b2b">Marketing Spend</div>
<div class="a" style="left:892px;top:867px;width:10px;height:10px;background:#3b575c;"></div>
<div class="c" style="left:908px;top:864px;font-size:12px;color:#2b2b2b">Utilities Payments</div>
<div class="a" style="left:1015px;top:867px;width:10px;height:10px;background:#d3d3d3;"></div>
<div class="c" style="left:1031px;top:864px;font-size:12px;color:#2b2b2b">Opex Payments</div>
<div class="a" style="left:1126px;top:867px;width:10px;height:10px;background:#2a8480;"></div>
<div class="c" style="left:1142px;top:864px;font-size:12px;color:#2b2b2b">Travel Payments</div>
<div class="a" style="left:47px;top:893px;width:1872px;height:47px;background:#ffffff;"></div>
<div class="a" style="left:47px;top:893px;width:1861px;height:1px;background:#2a3d43;"></div>
<svg class="a" style="left:47px;top:893px" width="186" height="4"><path d="M0 0H185L181.5 4H2.5Z" fill="#263a40"/></svg>
<div class="c" style="left:97px;top:905px;font-size:13.9px;color:#161513">Expense Payments</div>
<svg class="a" style="left:68px;top:905px" width="16" height="15" viewBox="0 0 16 15"><path d="M0.7 0.7H13.3V6.2M0.7 0.7V13.3H6.8" fill="none" stroke="#161513" stroke-width="1.3"/><rect x="0.7" y="0.7" width="12.6" height="2.6" fill="#161513"/><path d="M0.7 6.3H11M0.7 9.8H8.6M4.6 0.7V13.3M8.6 0.7V10.4" fill="none" stroke="#161513" stroke-width="1.3"/><path d="M7.6 14.6L8.2 11.8L13.8 6.2L15.8 8.2L10.2 13.8Z" fill="none" stroke="#161513" stroke-width="1.3" stroke-linejoin="round"/><path d="M8.6 13.8L10.2 13.8" fill="none" stroke="#161513" stroke-width="1.3"/></svg>
<div class="c" style="left:301px;top:905px;font-size:13.9px;color:#5f5e5c">Fixed Asset Payments</div>
<svg class="a" style="left:272px;top:905px" width="16" height="15" viewBox="0 0 16 15"><path d="M0.7 0.7H13.3V6.2M0.7 0.7V13.3H6.8" fill="none" stroke="#5f5e5c" stroke-width="1.3"/><rect x="0.7" y="0.7" width="12.6" height="2.6" fill="#5f5e5c"/><path d="M0.7 6.3H11M0.7 9.8H8.6M4.6 0.7V13.3M8.6 0.7V10.4" fill="none" stroke="#5f5e5c" stroke-width="1.3"/><path d="M7.6 14.6L8.2 11.8L13.8 6.2L15.8 8.2L10.2 13.8Z" fill="none" stroke="#5f5e5c" stroke-width="1.3" stroke-linejoin="round"/><path d="M8.6 13.8L10.2 13.8" fill="none" stroke="#5f5e5c" stroke-width="1.3"/></svg>
<div class="c" style="left:524px;top:905px;font-size:13.9px;color:#5f5e5c">Recurring Payments</div>
<svg class="a" style="left:495px;top:905px" width="16" height="15" viewBox="0 0 16 15"><path d="M0.7 0.7H13.3V6.2M0.7 0.7V13.3H6.8" fill="none" stroke="#5f5e5c" stroke-width="1.3"/><rect x="0.7" y="0.7" width="12.6" height="2.6" fill="#5f5e5c"/><path d="M0.7 6.3H11M0.7 9.8H8.6M4.6 0.7V13.3M8.6 0.7V10.4" fill="none" stroke="#5f5e5c" stroke-width="1.3"/><path d="M7.6 14.6L8.2 11.8L13.8 6.2L15.8 8.2L10.2 13.8Z" fill="none" stroke="#5f5e5c" stroke-width="1.3" stroke-linejoin="round"/><path d="M8.6 13.8L10.2 13.8" fill="none" stroke="#5f5e5c" stroke-width="1.3"/></svg>
<div class="c" style="left:736px;top:905px;font-size:13.9px;color:#5f5e5c">Salary Payments</div>
<svg class="a" style="left:707px;top:905px" width="16" height="15" viewBox="0 0 16 15"><path d="M0.7 0.7H13.3V6.2M0.7 0.7V13.3H6.8" fill="none" stroke="#5f5e5c" stroke-width="1.3"/><rect x="0.7" y="0.7" width="12.6" height="2.6" fill="#5f5e5c"/><path d="M0.7 6.3H11M0.7 9.8H8.6M4.6 0.7V13.3M8.6 0.7V10.4" fill="none" stroke="#5f5e5c" stroke-width="1.3"/><path d="M7.6 14.6L8.2 11.8L13.8 6.2L15.8 8.2L10.2 13.8Z" fill="none" stroke="#5f5e5c" stroke-width="1.3" stroke-linejoin="round"/><path d="M8.6 13.8L10.2 13.8" fill="none" stroke="#5f5e5c" stroke-width="1.3"/></svg>
<div class="c" style="left:926px;top:905px;font-size:13.9px;color:#5f5e5c">Project Payments</div>
<svg class="a" style="left:897px;top:905px" width="16" height="15" viewBox="0 0 16 15"><path d="M0.7 0.7H13.3V6.2M0.7 0.7V13.3H6.8" fill="none" stroke="#5f5e5c" stroke-width="1.3"/><rect x="0.7" y="0.7" width="12.6" height="2.6" fill="#5f5e5c"/><path d="M0.7 6.3H11M0.7 9.8H8.6M4.6 0.7V13.3M8.6 0.7V10.4" fill="none" stroke="#5f5e5c" stroke-width="1.3"/><path d="M7.6 14.6L8.2 11.8L13.8 6.2L15.8 8.2L10.2 13.8Z" fill="none" stroke="#5f5e5c" stroke-width="1.3" stroke-linejoin="round"/><path d="M8.6 13.8L10.2 13.8" fill="none" stroke="#5f5e5c" stroke-width="1.3"/></svg>
<div class="c" style="left:1121px;top:905px;font-size:13.9px;color:#5f5e5c">Direct Tax Payments</div>
<svg class="a" style="left:1091px;top:905px" width="16" height="15" viewBox="0 0 16 15"><path d="M0.7 0.7H13.3V6.2M0.7 0.7V13.3H6.8" fill="none" stroke="#5f5e5c" stroke-width="1.3"/><rect x="0.7" y="0.7" width="12.6" height="2.6" fill="#5f5e5c"/><path d="M0.7 6.3H11M0.7 9.8H8.6M4.6 0.7V13.3M8.6 0.7V10.4" fill="none" stroke="#5f5e5c" stroke-width="1.3"/><path d="M7.6 14.6L8.2 11.8L13.8 6.2L15.8 8.2L10.2 13.8Z" fill="none" stroke="#5f5e5c" stroke-width="1.3" stroke-linejoin="round"/><path d="M8.6 13.8L10.2 13.8" fill="none" stroke="#5f5e5c" stroke-width="1.3"/></svg>
<div class="c" style="left:1334px;top:905px;font-size:13.9px;color:#5f5e5c">Indirect Tax Payments</div>
<svg class="a" style="left:1305px;top:905px" width="16" height="15" viewBox="0 0 16 15"><path d="M0.7 0.7H13.3V6.2M0.7 0.7V13.3H6.8" fill="none" stroke="#5f5e5c" stroke-width="1.3"/><rect x="0.7" y="0.7" width="12.6" height="2.6" fill="#5f5e5c"/><path d="M0.7 6.3H11M0.7 9.8H8.6M4.6 0.7V13.3M8.6 0.7V10.4" fill="none" stroke="#5f5e5c" stroke-width="1.3"/><path d="M7.6 14.6L8.2 11.8L13.8 6.2L15.8 8.2L10.2 13.8Z" fill="none" stroke="#5f5e5c" stroke-width="1.3" stroke-linejoin="round"/><path d="M8.6 13.8L10.2 13.8" fill="none" stroke="#5f5e5c" stroke-width="1.3"/></svg>
<div class="c" style="left:1558px;top:905px;font-size:13.9px;color:#5f5e5c">DPO -Payments</div>
<svg class="a" style="left:1529px;top:905px" width="16" height="15" viewBox="0 0 16 15"><path d="M0.7 0.7H13.3V6.2M0.7 0.7V13.3H6.8" fill="none" stroke="#5f5e5c" stroke-width="1.3"/><rect x="0.7" y="0.7" width="12.6" height="2.6" fill="#5f5e5c"/><path d="M0.7 6.3H11M0.7 9.8H8.6M4.6 0.7V13.3M8.6 0.7V10.4" fill="none" stroke="#5f5e5c" stroke-width="1.3"/><path d="M7.6 14.6L8.2 11.8L13.8 6.2L15.8 8.2L10.2 13.8Z" fill="none" stroke="#5f5e5c" stroke-width="1.3" stroke-linejoin="round"/><path d="M8.6 13.8L10.2 13.8" fill="none" stroke="#5f5e5c" stroke-width="1.3"/></svg>
<svg class="a" style="left:1626px;top:64px" width="21" height="21" viewBox="0 0 20 20"><circle cx="10" cy="10" r="9" fill="none" stroke="#161513" stroke-width="1.9"/><circle cx="10" cy="5.6" r="1.3" fill="#161513"/><path d="M10 8.3V15.2" fill="none" stroke="#161513" stroke-width="1.9" stroke-width="2.8499999999999996"/></svg>
<svg class="a" style="left:1668px;top:64px" width="21" height="21" viewBox="0 0 20 20"><path d="M17 10A7 7 0 1 0 14.2 15.6" fill="none" stroke="#161513" stroke-width="1.9"/><path d="M14.2 9.6H19.8L17 13.2Z" fill="#161513"/></svg>
<svg class="a" style="left:1710px;top:64px" width="21" height="21" viewBox="0 0 20 20"><path d="M19.53 8.17L19.53 11.83L16.84 11.89L16.18 13.50L18.03 15.44L15.44 18.03L13.50 16.18L11.89 16.84L11.83 19.53L8.17 19.53L8.11 16.84L6.50 16.18L4.56 18.03L1.97 15.44L3.82 13.50L3.16 11.89L0.47 11.83L0.47 8.17L3.16 8.11L3.82 6.50L1.97 4.56L4.56 1.97L6.50 3.82L8.11 3.16L8.17 0.47L11.83 0.47L11.89 3.16L13.50 3.82L15.44 1.97L18.03 4.56L16.18 6.50L16.84 8.11Z" fill="none" stroke="#161513" stroke-width="1.9" stroke-width="2.1849999999999996"/><circle cx="10" cy="10" r="3" fill="none" stroke="#161513" stroke-width="1.9" stroke-width="2.1849999999999996"/></svg>
<svg class="a" style="left:1754px;top:110px" width="17" height="17" viewBox="0 0 20 20"><circle cx="10" cy="10" r="9" fill="none" stroke="#c4c4c2" stroke-width="1.4"/><circle cx="10" cy="5.6" r="1.3" fill="#c4c4c2"/><path d="M10 8.3V15.2" fill="none" stroke="#c4c4c2" stroke-width="1.4" stroke-width="2.0999999999999996"/></svg>
<svg class="a" style="left:1781px;top:110px" width="17" height="17" viewBox="0 0 17 17"><path d="M1 1H12.6L16 4.4V16H1Z" fill="none" stroke="#c4c4c2" stroke-width="1.4"/><path d="M4.2 1V5.6H11.6V1M4 16V10H13V16" fill="none" stroke="#c4c4c2" stroke-width="1.4"/></svg>
<svg class="a" style="left:1807px;top:110px" width="17" height="17" viewBox="0 0 20 20"><path d="M17 10A7 7 0 1 0 14.2 15.6" fill="none" stroke="#c4c4c2" stroke-width="1.4"/><path d="M14.2 9.6H19.8L17 13.2Z" fill="#c4c4c2"/></svg>
<svg class="a" style="left:1834px;top:110px" width="17" height="17" viewBox="0 0 17 17"><path d="M1.6 0V15.4H17.7M5.2 15.4V9.8M8.8 15.4V1.7M11.7 15.4V8M15.2 15.4V4.1" fill="none" stroke="#c4c4c2" stroke-width="1.4"/></svg>
<svg class="a" style="left:1862px;top:110px" width="18" height="16" viewBox="0 0 18 16"><circle cx="1.8" cy="8" r="1.5" fill="#c4c4c2"/><circle cx="8.5" cy="8" r="1.5" fill="#c4c4c2"/><circle cx="15.2" cy="8" r="1.5" fill="#c4c4c2"/></svg>
<svg class="a" style="left:1754px;top:340px" width="17" height="17" viewBox="0 0 20 20"><circle cx="10" cy="10" r="9" fill="none" stroke="#c4c4c2" stroke-width="1.4"/><circle cx="10" cy="5.6" r="1.3" fill="#c4c4c2"/><path d="M10 8.3V15.2" fill="none" stroke="#c4c4c2" stroke-width="1.4" stroke-width="2.0999999999999996"/></svg>
<svg class="a" style="left:1781px;top:340px" width="17" height="17" viewBox="0 0 17 17"><path d="M1 1H12.6L16 4.4V16H1Z" fill="none" stroke="#c4c4c2" stroke-width="1.4"/><path d="M4.2 1V5.6H11.6V1M4 16V10H13V16" fill="none" stroke="#c4c4c2" stroke-width="1.4"/></svg>
<svg class="a" style="left:1807px;top:340px" width="17" height="17" viewBox="0 0 20 20"><path d="M17 10A7 7 0 1 0 14.2 15.6" fill="none" stroke="#c4c4c2" stroke-width="1.4"/><path d="M14.2 9.6H19.8L17 13.2Z" fill="#c4c4c2"/></svg>
<svg class="a" style="left:1834px;top:340px" width="17" height="17" viewBox="0 0 17 17"><path d="M1.6 0V15.4H17.7M5.2 15.4V9.8M8.8 15.4V1.7M11.7 15.4V8M15.2 15.4V4.1" fill="none" stroke="#c4c4c2" stroke-width="1.4"/></svg>
<svg class="a" style="left:1862px;top:340px" width="18" height="16" viewBox="0 0 18 16"><circle cx="1.8" cy="8" r="1.5" fill="#c4c4c2"/><circle cx="8.5" cy="8" r="1.5" fill="#c4c4c2"/><circle cx="15.2" cy="8" r="1.5" fill="#c4c4c2"/></svg>
<svg class="a" style="left:1781px;top:622px" width="17" height="17" viewBox="0 0 20 20"><circle cx="10" cy="10" r="9" fill="none" stroke="#6e6e6c" stroke-width="1.4"/><circle cx="10" cy="5.6" r="1.3" fill="#6e6e6c"/><path d="M10 8.3V15.2" fill="none" stroke="#6e6e6c" stroke-width="1.4" stroke-width="2.0999999999999996"/></svg>
<svg class="a" style="left:1807px;top:622px" width="17" height="17" viewBox="0 0 20 20"><path d="M17 10A7 7 0 1 0 14.2 15.6" fill="none" stroke="#6e6e6c" stroke-width="1.4"/><path d="M14.2 9.6H19.8L17 13.2Z" fill="#6e6e6c"/></svg>
<svg class="a" style="left:1834px;top:622px" width="17" height="17" viewBox="0 0 17 17"><path d="M1.6 0V15.4H17.7M5.2 15.4V9.8M8.8 15.4V1.7M11.7 15.4V8M15.2 15.4V4.1" fill="none" stroke="#6e6e6c" stroke-width="1.4"/></svg>
<svg class="a" style="left:1862px;top:622px" width="18" height="16" viewBox="0 0 18 16"><circle cx="1.8" cy="8" r="1.5" fill="#6e6e6c"/><circle cx="8.5" cy="8" r="1.5" fill="#6e6e6c"/><circle cx="15.2" cy="8" r="1.5" fill="#6e6e6c"/></svg>
</body></html>
